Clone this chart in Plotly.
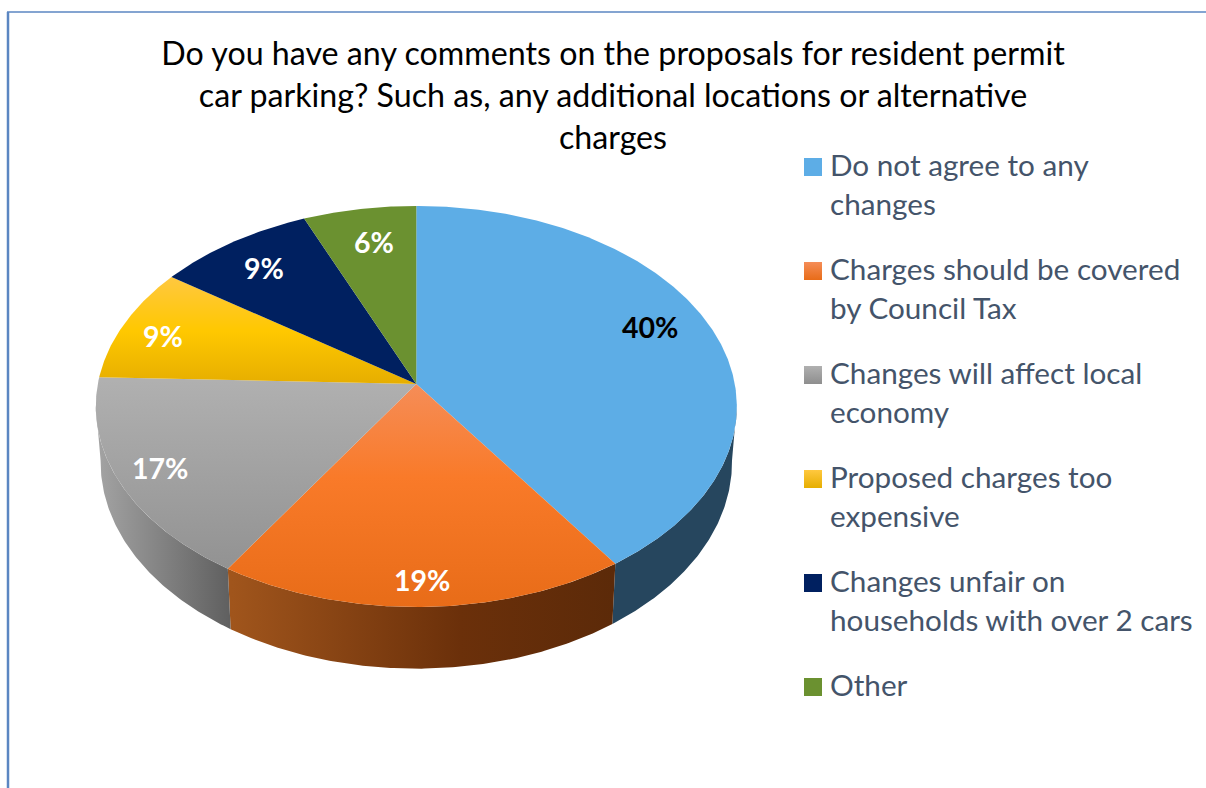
import math
import plotly.graph_objects as go

categories = ["Do not agree to any<br>changes", "Charges should be covered<br>by Council Tax",
              "Changes will affect local<br>economy", "Proposed charges too<br>expensive",
              "Changes unfair on<br>households with over 2 cars", "Other"]
values = [40.4, 18.6, 16.55, 9.2, 8.9, 6.35]
title_text = ("Do you have any comments on the proposals for resident permit<br>"
              "car parking? Such as, any additional locations or alternative<br>charges")

# styling
FONT = "Lato"
top_fill = [
    dict(color="#5DADE6"),
    dict(grad=[[0, "#F58D58"], [0.42, "#F97A29"], [1, "#E86C18"]], a=384, b=607),
    dict(grad=[[0, "#B0B0B0"], [1, "#929292"]], a=380, b=570),
    dict(grad=[[0, "#FFC83F"], [0.5, "#FFC800"], [1, "#E6AE00"]], a=278, b=384),
    dict(color="#002060"),
    dict(color="#6B9130"),
]
wall_fill = [
    dict(color="#26465E"),
    dict(grad=[[0, "#A0551C"], [0.6, "#6B300A"], [1, "#5C2A09"]], a=232, b=613),
    dict(grad=[[0, "#A2A2A2"], [1, "#5E5E5E"]], a=100, b=233),
]
swatch = [("#5DADE6", "#5DADE6"), ("#F58D58", "#E86C18"), ("#B0B0B0", "#8E8E8E"),
          ("#FFC83F", "#E6AE00"), ("#002060", "#002060"), ("#6B9130", "#6B9130")]
label_colors = ["#000000", "#FFFFFF", "#FFFFFF", "#FFFFFF", "#FFFFFF", "#FFFFFF"]
label_pos = [(650, 327), (422, 580), (160, 468), (163, 336), (264, 268), (374, 242)]
legend_y = [167, 271, 375, 479, 583, 687]

# perspective projection of the pie disc into pixel axes
CX, CY, A, B, K = 416.3, 384, 198.0, 318.5, 0.112


def proj(theta_deg, r=1.0, sx=1.0, sy=1.0, dy=0.0):
    t = math.radians(theta_deg)
    u, v = r * math.sin(t), r * math.cos(t)
    s = 1 / (1 + K * v)
    return CX + B * sx * u * s, CY + A * sy * (-v) * s + dy


def arc(a, b, **kw):
    n = max(2, int(abs(b - a) / 0.5) + 1)
    return [proj(a + (b - a) * i / (n - 1), **kw) for i in range(n)]


def fill_args(f, orient):
    if "grad" in f:
        return dict(fillgradient=dict(type=orient, colorscale=f["grad"], start=f["a"], stop=f["b"]))
    return dict(fillcolor=f["color"])


fig = go.Figure()
total = sum(values)
edges = [0]
for v in values:
    edges.append(edges[-1] + v / total * 360)

# side wall (only the front part is visible)
WALL = dict(sx=0.985, sy=1.03, dy=55)
for i, f in enumerate(wall_fill):
    a, b = max(edges[i], 96), min(edges[i + 1], 264)
    pts = arc(a, b) + arc(a, b, **WALL)[::-1]
    fig.add_trace(go.Scatter(x=[p[0] for p in pts], y=[p[1] for p in pts], mode="lines", fill="toself",
                             line=dict(width=0, color="rgba(0,0,0,0)"), hoverinfo="skip", showlegend=False,
                             **fill_args(f, "horizontal")))

# top face
for i, f in enumerate(top_fill):
    pts = [proj(0, r=0)] + arc(edges[i], edges[i + 1]) + [proj(0, r=0)]
    fig.add_trace(go.Scatter(x=[p[0] for p in pts], y=[p[1] for p in pts], mode="lines", fill="toself",
                             name=categories[i].replace("<br>", " "),
                             line=dict(width=0, color="rgba(0,0,0,0)"), hoverinfo="skip", showlegend=False,
                             **fill_args(f, "vertical")))

# legend swatches
fig.add_trace(go.Scatter(x=[813] * 6, y=legend_y, mode="markers", hoverinfo="skip", showlegend=False,
                         marker=dict(symbol="square", size=18, color=[s[0] for s in swatch], line=dict(width=0),
                                     gradient=dict(type="vertical", color=[s[1] for s in swatch]))))

ann = []
for i, v in enumerate(values):
    ann.append(dict(x=label_pos[i][0], y=label_pos[i][1], text=f"<b>{round(v)}%</b>", showarrow=False,
                    xref="x", yref="y", font=dict(family=FONT, size=28.5, color=label_colors[i])))
for i, c in enumerate(categories):
    ann.append(dict(x=828, y=legend_y[i] - 22, text=c, showarrow=False, xref="x", yref="y", xanchor="left",
                    yanchor="top", align="left", font=dict(family=FONT, size=29.7, color="#44546A")))

fig.update_layout(
    width=1206, height=788, margin=dict(l=0, r=0, t=0, b=0), showlegend=False,
    paper_bgcolor="white", plot_bgcolor="white",
    title=dict(text=title_text, x=613 / 1206, xanchor="center", y=1 - 65 / 788, yanchor="top", yref="container",
               font=dict(family=FONT, size=32.2, color="#000000")),
    xaxis=dict(range=[0, 1206], visible=False, fixedrange=True),
    yaxis=dict(range=[788, 0], visible=False, fixedrange=True),
    annotations=ann,
    shapes=[dict(type="line", xref="x", yref="y", x0=8, x1=8, y0=12, y1=788, line=dict(color="#5B86C2", width=2.5)),
            dict(type="line", xref="x", yref="y", x0=7, x1=1206, y0=12, y1=12, line=dict(color="#5B86C2", width=1.5))],
)
fig.write_html("out.html", config=dict(displayModeBar=False),
               post_script="document.body.style.margin='0';document.documentElement.style.overflow='hidden';")
